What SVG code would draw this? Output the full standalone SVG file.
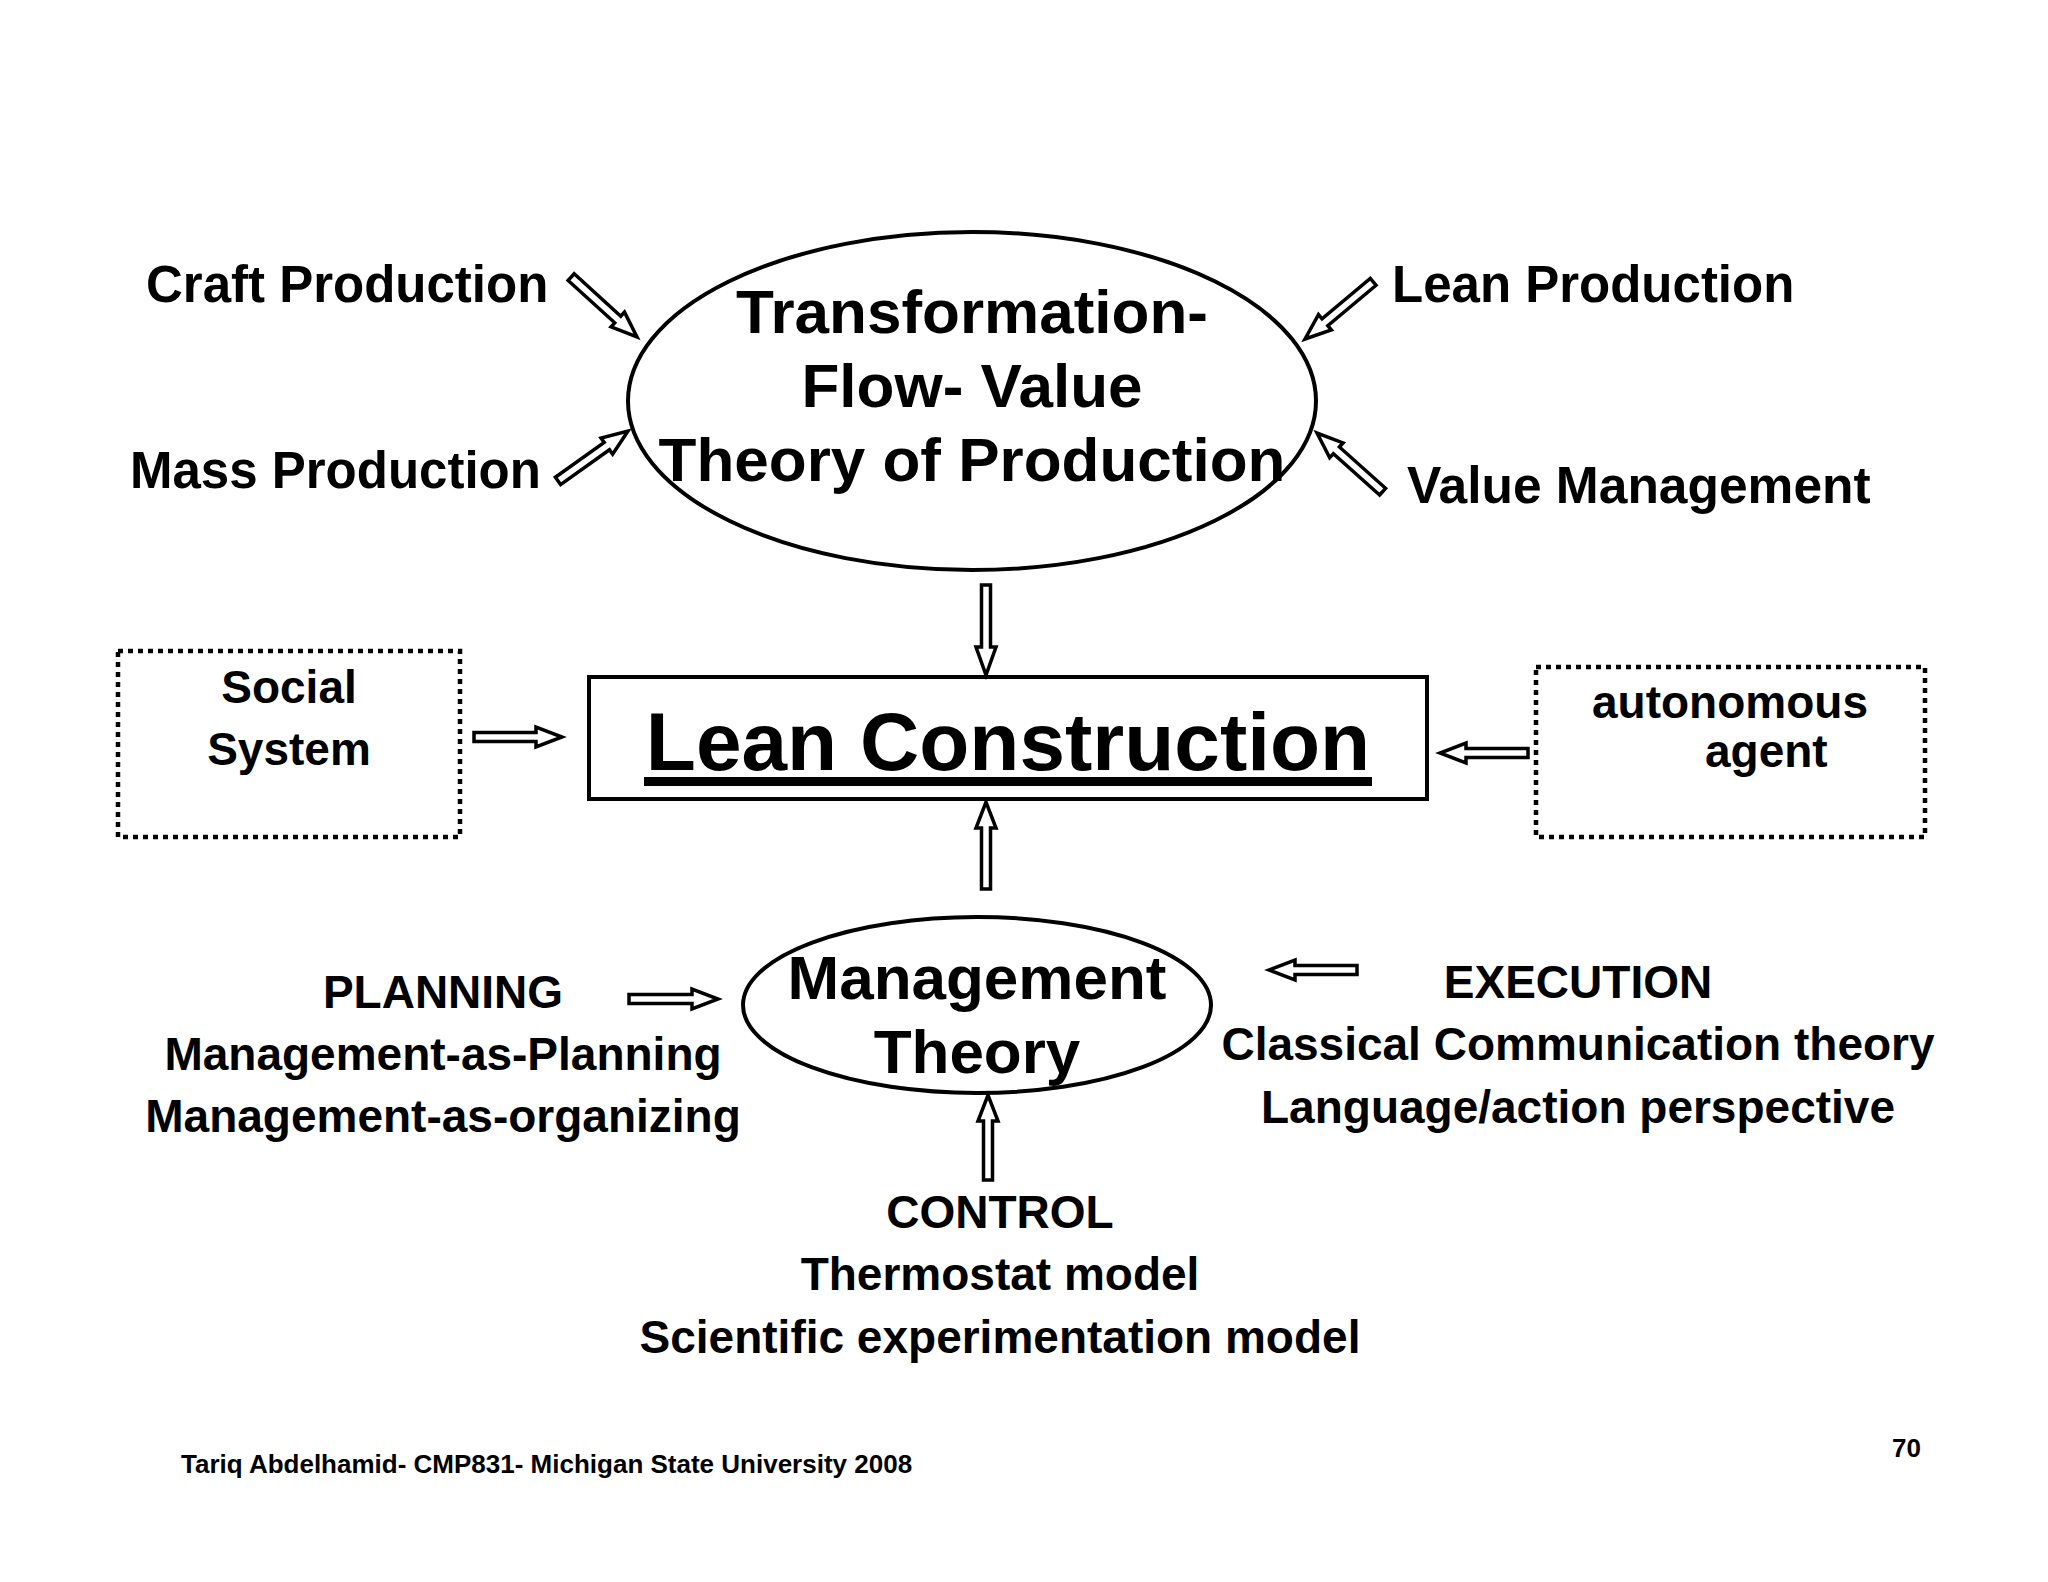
<svg xmlns="http://www.w3.org/2000/svg" width="2048" height="1582" viewBox="0 0 2048 1582">
<style>
text{font-family:"Liberation Sans",Arial,sans-serif;font-weight:bold;fill:#000}
.lbl{font-size:51px}
.big{font-size:62px}
.mid{font-size:46px}
.c{text-anchor:middle}
.foot{font-size:26px}
.ell{fill:#fff;stroke:#000;stroke-width:4}
.dot{fill:#fff;stroke:#000;stroke-width:4.5;stroke-dasharray:5 5}
.arr{fill:#fff;stroke:#000;stroke-width:3.5;stroke-linejoin:miter;stroke-miterlimit:10}
</style>
<rect width="2048" height="1582" fill="#fff"/>

<g id="craft-production"><text class="lbl" x="146" y="302">Craft Production</text></g>
<g id="mass-production"><text class="lbl" x="130" y="488">Mass Production</text></g>
<g id="lean-production"><text class="lbl" x="1392" y="302">Lean Production</text></g>
<g id="value-management"><text class="lbl" x="1407" y="503" style="font-size:51.5px">Value Management</text></g>

<g id="tfv-theory">
<ellipse class="ell" cx="972" cy="401" rx="344" ry="169"/>
<text class="big c" x="972" y="333">Transformation-</text>
<text class="big c" x="972" y="407">Flow- Value</text>
<text class="big c" x="972" y="481">Theory of Production</text>
</g>

<g id="lean-construction">
<rect x="589" y="677" width="838" height="122" fill="#fff" stroke="#000" stroke-width="4"/>
<text x="1008" y="770" text-anchor="middle" style="font-size:82px">Lean Construction</text>
<rect x="644" y="777" width="728" height="9" fill="#000"/>
</g>

<g id="social-system">
<rect class="dot" x="118" y="651" width="342" height="186"/>
<text class="mid c" x="289" y="703">Social</text>
<text class="mid c" x="289" y="765">System</text>
</g>

<g id="autonomous-agent">
<rect class="dot" x="1536" y="667" width="389" height="170"/>
<text class="mid" x="1592" y="718">autonomous</text>
<text class="mid" x="1705" y="767">agent</text>
</g>

<g id="management-theory">
<ellipse class="ell" cx="977" cy="1005" rx="234" ry="88"/>
<text class="big c" x="977" y="999">Management</text>
<text class="big c" x="977" y="1073">Theory</text>
</g>

<g id="planning">
<text class="mid c" x="443" y="1008">PLANNING</text>
<text class="mid c" x="443" y="1070">Management-as-Planning</text>
<text class="mid c" x="443" y="1132">Management-as-organizing</text>
</g>

<g id="execution">
<text class="mid c" x="1578" y="998">EXECUTION</text>
<text class="mid c" x="1578" y="1060">Classical Communication theory</text>
<text class="mid c" x="1578" y="1123">Language/action perspective</text>
</g>

<g id="control">
<text class="mid c" x="1000" y="1228">CONTROL</text>
<text class="mid c" x="1000" y="1290">Thermostat model</text>
<text class="mid c" x="1000" y="1353">Scientific experimentation model</text>
</g>

<g id="connectors">
<path class="arr" transform="translate(637,337) rotate(42.3)" d="M -89 -4.5 H -26 V -10 L 0 0 L -26 10 V 4.5 H -89 Z"/>
<path class="arr" transform="translate(628,431) rotate(-35.5)" d="M -86 -4.5 H -26 V -10 L 0 0 L -26 10 V 4.5 H -86 Z"/>
<path class="arr" transform="translate(1305,339) rotate(140)" d="M -89 -4.5 H -26 V -10 L 0 0 L -26 10 V 4.5 H -89 Z"/>
<path class="arr" transform="translate(1317,433) rotate(-138.2)" d="M -88 -4.5 H -26 V -10 L 0 0 L -26 10 V 4.5 H -88 Z"/>
<path class="arr" transform="translate(986,675) rotate(90)" d="M -90 -4.5 H -28 V -10 L 0 0 L -28 10 V 4.5 H -90 Z"/>
<path class="arr" transform="translate(986,802) rotate(-90)" d="M -87 -4.5 H -26 V -10 L 0 0 L -26 10 V 4.5 H -87 Z"/>
<path class="arr" transform="translate(562,737) rotate(0)" d="M -88 -4.5 H -26 V -10 L 0 0 L -26 10 V 4.5 H -88 Z"/>
<path class="arr" transform="translate(1440,753) rotate(180)" d="M -88 -4.5 H -26 V -10 L 0 0 L -26 10 V 4.5 H -88 Z"/>
<path class="arr" transform="translate(718,999) rotate(0)" d="M -89 -4.5 H -26 V -10 L 0 0 L -26 10 V 4.5 H -89 Z"/>
<path class="arr" transform="translate(1269,970) rotate(180)" d="M -88 -4.5 H -26 V -10 L 0 0 L -26 10 V 4.5 H -88 Z"/>
<path class="arr" transform="translate(988,1095) rotate(-90)" d="M -85 -4.5 H -26 V -10 L 0 0 L -26 10 V 4.5 H -85 Z"/>
</g>

<g id="footer">
<text class="foot" x="181" y="1473">Tariq Abdelhamid- CMP831- Michigan State University 2008</text>
<text class="foot" x="1892" y="1457">70</text>
</g>
</svg>
